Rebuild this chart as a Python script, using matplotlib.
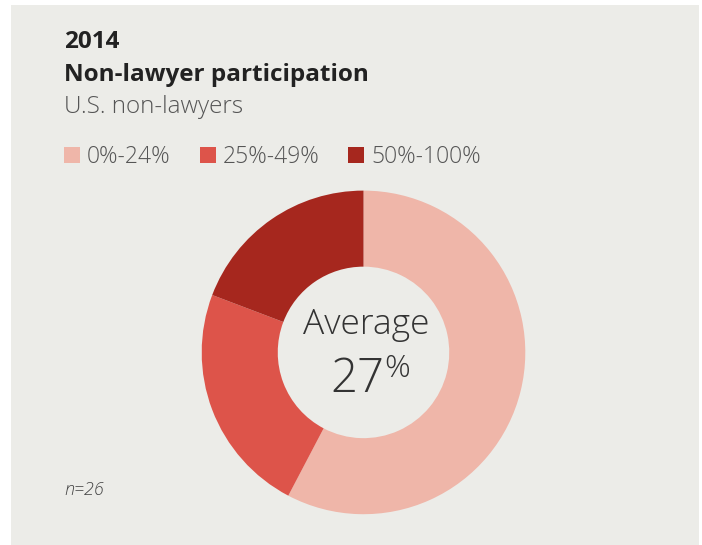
import matplotlib.pyplot as plt
from matplotlib.patches import Rectangle

# data
categories = ["0%-24%", "25%-49%", "50%-100%"]
counts = [15, 6, 5]
colors = ["#EFB6A9", "#DD544A", "#A6271E"]
average_label = "27"
n_label = "n=26"

W, H = 702, 545
BG = "#ECECE8"

fig = plt.figure(figsize=(W / 100, H / 100), dpi=100)
fig.patch.set_facecolor("white")

# grey panel
fig.patches.append(Rectangle((11 / W, 0), (699 - 11) / W, (H - 5) / H,
                             transform=fig.transFigure, facecolor=BG,
                             edgecolor="none", zorder=-1))

def px(x, y):
    return x / W, 1 - y / H

font = "Open Sans"

# titles
fig.text(*px(64, 48), "2014", fontsize=17.5, fontweight="bold",
         family=font, color="#222222", va="baseline")
fig.text(*px(64, 81), "Non-lawyer participation", fontsize=17.5,
         fontweight="bold", family=font, color="#222222", va="baseline")
fig.text(*px(64, 113), "U.S. non-lawyers", fontsize=17.5, fontweight="light",
         family=font, color="#555555", va="baseline")

# legend
sq_x = [64, 200, 348]
for x, lab, c in zip(sq_x, categories, colors):
    fig.patches.append(Rectangle((x / W, 1 - 163 / H), 16 / W, 16 / H,
                                 transform=fig.transFigure, facecolor=c,
                                 edgecolor="none"))
    fig.text(*px(x + 23, 163), lab, fontsize=16.5, fontweight="light",
             family=font, color="#555555", va="baseline")

# donut
cx, cy, r = 363.5, 352.4, 161.8
ax = fig.add_axes([(cx - r) / W, (H - cy - r) / H, 2 * r / W, 2 * r / H])
ax.pie(counts, colors=colors, startangle=90, counterclock=False, radius=1,
       wedgeprops=dict(width=0.47, edgecolor="none"))
ax.set_xlim(-1, 1)
ax.set_ylim(-1, 1)
ax.set_aspect("equal")
ax.axis("off")

fig.text(*px(366, 334), "Average", fontsize=25.5, fontweight="light",
         family=font, color="#333333", ha="center", va="baseline")
fig.text(*px(384, 392), average_label, fontsize=34, fontweight="light",
         family=font, color="#333333", ha="right", va="baseline")
fig.text(*px(384, 377), "%", fontsize=23, fontweight="light",
         family=font, color="#333333", ha="left", va="baseline")

fig.text(*px(64, 495), n_label, fontsize=13, style="italic",
         fontweight="light", family=font, color="#444444", va="baseline")

fig.savefig("out.png", dpi=100, facecolor=fig.get_facecolor())
